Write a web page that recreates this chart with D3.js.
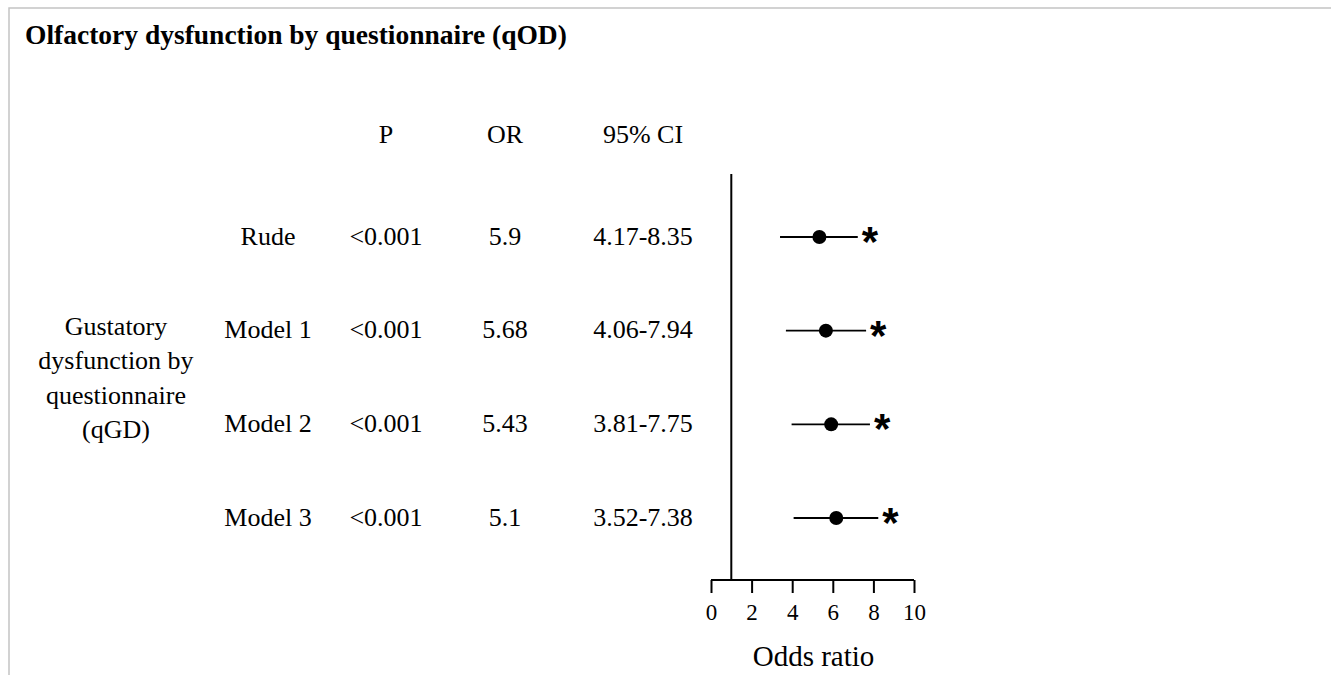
<!DOCTYPE html>
<html>
<head>
<meta charset="utf-8">
<script src="https://cdn.jsdelivr.net/npm/d3@7"></script>
<style>
  body { margin: 0; background: #fff; }
  svg { display: block; }
  text { font-family: "Liberation Serif", Tinos, "Times New Roman", Times, "DejaVu Serif", serif; fill: #000; }
</style>
</head>
<body>
<div id="view-container"></div>
<script>
// ************** data *****************
var models = ["Rude", "Model 1", "Model 2", "Model 3"];
var pLabels = ["<0.001", "<0.001", "<0.001", "<0.001"];
var orLabels = ["5.9", "5.68", "5.43", "5.1"];
var ciLabels = ["4.17-8.35", "4.06-7.94", "3.81-7.75", "3.52-7.38"];

// marks as drawn in the plot
var estimate = [5.34, 5.66, 5.92, 6.17];
var lower = [3.40, 3.69, 3.97, 4.07];
var upper = [7.23, 7.64, 7.83, 8.24];

var xTicks = [0, 2, 4, 6, 8, 10];
var refValue = 1;

var groupLabel = ["Gustatory", "dysfunction by", "questionnaire", "(qGD)"];
var title = "Olfactory dysfunction by questionnaire (qOD)";
var headers = ["P", "OR", "95% CI"];

// ************** sizes *****************
var widthTotal = 1331, heightTotal = 675;
var colX = {model: 268, p: 386, or: 505, ci: 643};
var axisY = 580;

var svg = d3.select("#view-container").append("svg")
  .attr("width", widthTotal)
  .attr("height", heightTotal);

//frame
svg.append("rect")
  .attr("x", 9).attr("y", 8)
  .attr("width", widthTotal).attr("height", heightTotal)
  .attr("fill", "none")
  .attr("stroke", "#c4c4c4")
  .attr("stroke-width", 1.5);

//title
svg.append("text")
  .attr("x", 25).attr("y", 44)
  .attr("font-size", "27.5px")
  .attr("font-weight", "bold")
  .text(title);

//scales
var x = d3.scaleLinear().domain([0, 10]).range([711, 914]);
var y = d3.scalePoint().domain(models).range([237, 518]);

//column headers
var headerX = [colX.p, colX.or, colX.ci];
svg.selectAll("text.header")
  .data(headers)
  .enter()
  .append("text")
  .attr("class", "header")
  .attr("x", function(d, i) { return headerX[i]; })
  .attr("y", 143)
  .attr("text-anchor", "middle")
  .attr("font-size", "26px")
  .text(function(d) { return d; });

//table columns
var columns = [
  {x: colX.model, labels: models},
  {x: colX.p, labels: pLabels},
  {x: colX.or, labels: orLabels},
  {x: colX.ci, labels: ciLabels}
];
columns.forEach(function(col) {
  svg.append("g")
    .selectAll("text")
    .data(col.labels)
    .enter()
    .append("text")
    .attr("x", col.x)
    .attr("y", function(d, i) { return y(models[i]) + 7.5; })
    .attr("text-anchor", "middle")
    .attr("font-size", "26px")
    .text(function(d) { return d; });
});

//group label on the left
var groupMid = (y(models[1]) + y(models[2])) / 2;
svg.append("g")
  .selectAll("text")
  .data(groupLabel)
  .enter()
  .append("text")
  .attr("x", 116)
  .attr("y", function(d, i) { return groupMid - 43 + i * 34.5; })
  .attr("text-anchor", "middle")
  .attr("font-size", "26px")
  .text(function(d) { return d; });

//x axis
var xAxis = d3.axisBottom(x)
  .tickValues(xTicks)
  .tickSize(13)
  .tickPadding(11)
  .tickFormat(d3.format("d"));

var gAxis = svg.append("g")
  .attr("transform", "translate(0," + axisY + ")")
  .call(xAxis);
gAxis.attr("font-family", null).attr("font-size", null);
gAxis.select(".domain").remove();
gAxis.append("line")
  .attr("x1", x(0)).attr("x2", x(10))
  .attr("y1", 0).attr("y2", 0)
  .attr("stroke", "#000")
  .attr("stroke-width", 2);
gAxis.selectAll(".tick line").attr("stroke-width", 2);
gAxis.selectAll(".tick text")
  .attr("font-size", "23px")
  .attr("fill", "#000");

svg.append("text")
  .attr("x", (x(0) + x(10)) / 2 + 1)
  .attr("y", 666)
  .attr("text-anchor", "middle")
  .attr("font-size", "29px")
  .text("Odds ratio");

//reference line at OR = 1
svg.append("line")
  .attr("x1", x(refValue)).attr("x2", x(refValue))
  .attr("y1", 174).attr("y2", axisY)
  .attr("stroke", "#000")
  .attr("stroke-width", 2);

//CI lines, points, asterisks
var rows = svg.append("g").selectAll("g")
  .data(models)
  .enter()
  .append("g");

rows.append("line")
  .attr("x1", function(d, i) { return x(lower[i]); })
  .attr("x2", function(d, i) { return x(upper[i]); })
  .attr("y1", function(d) { return y(d); })
  .attr("y2", function(d) { return y(d); })
  .attr("stroke", "#000")
  .attr("stroke-width", 1.8);

rows.append("circle")
  .attr("cx", function(d, i) { return x(estimate[i]); })
  .attr("cy", function(d) { return y(d); })
  .attr("r", 7)
  .attr("fill", "#000");

rows.append("text")
  .attr("x", function(d, i) { return x(upper[i]) + 4; })
  .attr("y", function(d) { return y(d) + 19; })
  .style("font-family", "'Liberation Sans', Arial, sans-serif")
  .attr("font-weight", "bold")
  .attr("font-size", "42px")
  .text("*");
</script>
</body>
</html>
